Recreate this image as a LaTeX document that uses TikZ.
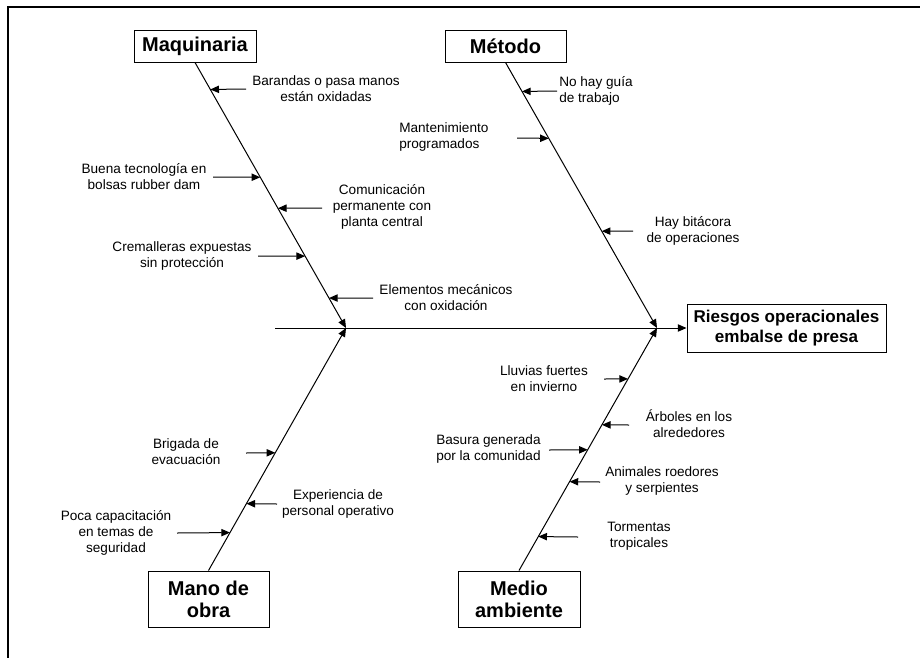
\documentclass[tikz,border=0pt]{standalone}
\usepackage{fontspec}
\setmainfont{Liberation Sans}
\usetikzlibrary{arrows.meta,calc}
\begin{document}
\begin{tikzpicture}[x=0.75pt,y=-0.75pt,
  cat/.style={draw,line width=0.75pt,inner sep=0pt,align=center,
    font=\fontsize{15}{16.5}\selectfont\bfseries},
  cause/.style={inner sep=0pt,align=center,font=\fontsize{10.2}{12}\selectfont},
  causel/.style={cause,align=left,anchor=west},
  bone/.style={line width=0.75pt,-{Triangle[length=6.5pt,width=5.5pt]}},
  sub/.style={line width=0.75pt,-{Triangle[length=6.5pt,width=5.5pt]}},
]
\useasboundingbox (0,0) rectangle (920,657);
% outer frame
\draw[line width=1.5pt] (8,662) -- (8,7) -- (925,7);

% category boxes and effect
\node[cat,minimum width=91.5pt,minimum height=24pt] (mq) at (195,46) {Maquinaria};
\node[cat,minimum width=90.75pt,minimum height=24pt] (me) at (505.5,46) {Método};
\node[cat,minimum width=149.25pt,minimum height=36pt,
      font=\fontsize{12.8}{15}\selectfont\bfseries] (ef) at (786.5,328)
      {Riesgos operacionales\\embalse de presa};
\node[cat,minimum width=90.75pt,minimum height=42pt] (mo) at (208.5,599) {Mano de\\obra};
\node[cat,minimum width=91.5pt,minimum height=42pt] (ma) at (519,599) {Medio\\ambiente};

% spine and main bones
\coordinate (s0) at (275,328);
\coordinate (j1) at (346,328);
\coordinate (j2) at (657,328);
\draw[bone] (s0) -- (ef.west);
\draw[bone] (mq.south) -- (j1);
\draw[bone] (me.south) -- (j2);
\draw[bone] (mo.north) -- (j1);
\draw[bone] (ma.north) -- (j2);

% Maquinaria causes
\node[cause] (m1) at (326,89) {Barandas o pasa manos\\están oxidadas};
\node[cause] (m2) at (144,177) {Buena tecnología en\\bolsas rubber dam};
\node[cause] (m3) at (382,207) {Comunicación\\permanente con\\planta central};
\node[cause] (m4) at (182,256) {Cremalleras expuestas\\sin protección};
\node[cause] (m5) at (446,298) {Elementos mecánicos\\con oxidación};
\coordinate (m1t) at (246,89);
\coordinate (m2t) at (213,177);
\coordinate (m3t) at (322,208);
\coordinate (m4t) at (258,256);
\coordinate (m5t) at (373,298);
\draw[sub] (m1t) -- ($(mq.south)!0.1015!(j1)$);
\draw[sub] (m2t) -- ($(mq.south)!0.4323!(j1)$);
\draw[sub] (m3t) -- ($(mq.south)!0.5489!(j1)$);
\draw[sub] (m4t) -- ($(mq.south)!0.7293!(j1)$);
\draw[sub] (m5t) -- ($(mq.south)!0.8872!(j1)$);

% Método causes
\node[causel] (t1) at (559,91) {No hay guía\\de trabajo};
\node[causel] (t2) at (399,137) {Mantenimiento\\programados};
\node[cause] (t3) at (693,231) {Hay bitácora\\de operaciones};
\coordinate (t1t) at (557,91);
\coordinate (t2t) at (517,138);
\coordinate (t3t) at (633,231);
\draw[sub] (t1t) -- ($(me.south)!0.1090!(j2)$);
\draw[sub] (t2t) -- ($(me.south)!0.2857!(j2)$);
\draw[sub] (t3t) -- ($(me.south)!0.6353!(j2)$);

% Mano de obra causes
\node[cause] (w1) at (186,451.5) {Brigada de\\evacuación};
\node[cause] (w2) at (338,504) {Experiencia de\\personal operativo};
\node[cause] (w3) at (116,532.5) {Poca capacitación\\en temas de\\seguridad};
\coordinate (w1t) at (246,453);
\coordinate (w2t) at (277,504);
\coordinate (w3t) at (177,533);
\draw[sub] (w1t) -- ($(mo.north)!0.4856!(j1)$);
\draw[sub] (w2t) -- ($(mo.north)!0.2757!(j1)$);
\draw[sub] (w3t) -- ($(mo.north)!0.1564!(j1)$);

% Medio ambiente causes
\node[cause] (e1) at (544,379) {Lluvias fuertes\\en invierno};
\node[cause] (e2) at (689,424) {Árboles en los\\alrededores};
\node[causel] (e3) at (436,449) {Basura generada\\por la comunidad};
\node[cause] (e4) at (662,480.5) {Animales roedores\\y serpientes};
\node[cause] (e5) at (639,536) {Tormentas\\tropicales};
\coordinate (e1t) at (604,379);
\coordinate (e2t) at (629,425);
\coordinate (e3t) at (549,450);
\coordinate (e4t) at (600,482);
\coordinate (e5t) at (578,537);
\draw[sub] (e1t) -- ($(ma.north)!0.7901!(j2)$);
\draw[sub] (e2t) -- ($(ma.north)!0.6008!(j2)$);
\draw[sub] (e3t) -- ($(ma.north)!0.4979!(j2)$);
\draw[sub] (e4t) -- ($(ma.north)!0.3663!(j2)$);
\draw[sub] (e5t) -- ($(ma.north)!0.1399!(j2)$);
\end{tikzpicture}
\end{document}
